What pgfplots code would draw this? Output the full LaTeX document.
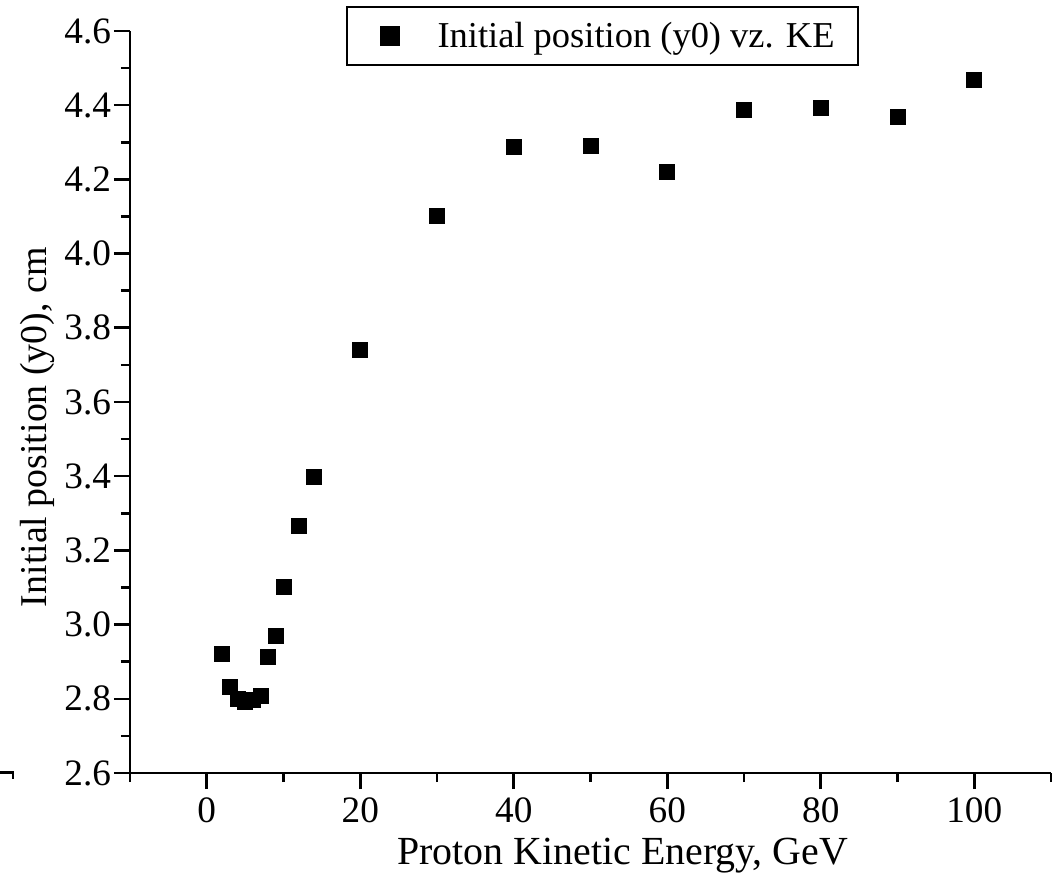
\documentclass[border=0pt]{standalone}
\usepackage{fontspec}
\setmainfont{Liberation Serif}
\usepackage{pgfplots}
\pgfplotsset{compat=1.18}
\usetikzlibrary{calc}
\begin{document}
\begin{tikzpicture}
\begin{axis}[
  name=ax,
  scale only axis=true,
  width=460.5bp, height=371bp,
  xmin=-10, xmax=110, ymin=2.6, ymax=4.6,
  axis x line*=bottom, axis y line*=left,
  axis line style={-, line width=1.3bp},
  xtick={0,20,40,60,80,100},
  xticklabels={0,20,40,60,80,100},
  ytick={2.6,2.8,3.0,3.2,3.4,3.6,3.8,4.0,4.2,4.4,4.6},
  yticklabels={2.6,2.8,3.0,3.2,3.4,3.6,3.8,4.0,4.2,4.4,4.6},
  minor xtick={-10,10,30,50,70,90,110},
  minor ytick={2.7,2.9,3.1,3.3,3.5,3.7,3.9,4.1,4.3,4.5},
  tick align=outside,
  major tick length=8bp, minor tick length=4.5bp,
  every tick/.style={line width=1.3bp, black},
  tick label style={font=\fontsize{18.7}{22}\selectfont},
  yticklabel style={xshift=2bp},
  xticklabel style={yshift=-1bp},
  xlabel={Proton Kinetic Energy, GeV},
  ylabel={Initial position (y0), cm},
  xlabel style={font=\fontsize{20}{24}\selectfont, at={(axis description cs:0.535,0)}, anchor=center, yshift=-41.5bp},
  ylabel style={font=\fontsize{19}{23}\selectfont, at={(axis description cs:0,0.466)}, anchor=center, rotate=0, yshift=46.5bp},
  legend style={at={(0.5125,1.0283)}, anchor=north, yshift=2bp, draw=black, line width=1bp,
    inner sep=0pt, nodes={inner sep=0pt, minimum height=29bp},
    font=\fontsize{18.3}{22}\selectfont},
  legend cell align=left,
  legend image code/.code={\path[draw=none] (-21.5bp,0bp) -- (24bp,0bp);
    \fill[black] (-4.5bp,-4.5bp) rectangle (4.5bp,4.5bp);},
]
\addplot[only marks, mark=square*, mark size=3.75bp, black] coordinates {
(2,2.921) (3,2.833) (4,2.799) (5,2.792) (6,2.798) (7,2.809) (8,2.914) (9,2.969)
(10,3.102) (12,3.266) (14,3.398) (20,3.740) (30,4.101) (40,4.287) (50,4.290)
(60,4.220) (70,4.387) (80,4.392) (90,4.368) (100,4.468)
};
\addlegendentry{Initial position (y0) vz. KE\hspace*{11.5bp}\mbox{}}
\end{axis}
\draw[line width=1.3bp] ($(ax.south west)+(-65bp,0.3bp)$) -- ++(6.5bp,0) -- ++(0,-3.3bp);
\pgfresetboundingbox
\path[use as bounding box] ($(ax.south west)+(-65bp,-56bp)$) rectangle ($(ax.north east)+(1bp,15.5bp)$);
\end{tikzpicture}
\end{document}
